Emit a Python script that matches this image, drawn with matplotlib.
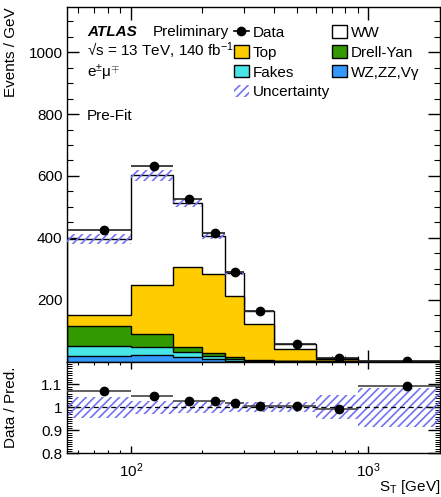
import numpy as np
import matplotlib
matplotlib.use("Agg")
import matplotlib.pyplot as plt
from matplotlib.lines import Line2D
from matplotlib.patches import Patch
from matplotlib.ticker import FixedLocator, NullFormatter, LogLocator, MultipleLocator

plt.rcParams['font.family'] = ['Liberation Sans', 'DejaVu Sans']
plt.rcParams['mathtext.fontset'] = 'custom'
plt.rcParams['mathtext.rm'] = 'Liberation Sans'
plt.rcParams['mathtext.it'] = 'Liberation Sans:italic'
plt.rcParams['mathtext.bf'] = 'Liberation Sans:bold'
plt.rcParams['hatch.linewidth'] = 1.2

# ---------------- data ----------------
bin_edges = [54, 100, 150, 200, 250, 300, 400, 600, 900, 2000]
data = [425, 631, 525, 414, 290, 164, 56, 11, 0.5]
vv = [17, 22, 15, 7.5, 3, 1.2, 0.5, 0.2, 0.02]
fakes = [32, 24, 17, 11.5, 6, 2, 0.6, 0.1, 0.01]
drellyan = [66, 43, 16, 10, 5, 2.8, 1, 0.3, 0.02]
top = [35, 158, 258, 253, 197, 116, 38, 6.5, 0.25]
ww = [246, 355, 206, 124, 76, 41, 16.5, 4, 0.16]
rel_unc = [0.044, 0.030, 0.025, 0.023, 0.022, 0.022, 0.022, 0.052, 0.085]
ratio = [1.073, 1.050, 1.030, 1.028, 1.018, 1.008, 1.008, 0.993, 1.094]

labels_stack = ['WZ,ZZ,V\u03b3', 'Fakes', 'Drell-Yan', 'Top', 'WW']
colors_stack = ['#3399ff', '#47e5e5', '#339900', '#ffcc00', '#ffffff']

hatch_col = '#7272f2'
HATCH = '////'

edges = np.array(bin_edges, dtype=float)
comps = [np.array(c, dtype=float) for c in (vv, fakes, drellyan, top, ww)]
cums = np.cumsum(np.array(comps), axis=0)
total = cums[-1]
unc = np.array(rel_unc)
centers = 0.5 * (edges[:-1] + edges[1:])
xlo = centers - edges[:-1]
xhi = edges[1:] - centers

fig = plt.figure(figsize=(4.41, 4.97), dpi=100)
ax = fig.add_axes([0.1526, 0.2726, 0.8451, 0.7127])
rx = fig.add_axes([0.1526, 0.0879, 0.8451, 0.1847], sharex=ax)

# stacked histogram (draw from top cumulative down)
for i in range(len(comps) - 1, -1, -1):
    ax.stairs(cums[i], edges, baseline=0, fill=True, facecolor=colors_stack[i],
              edgecolor='black', linewidth=1.0, zorder=2 + (len(comps) - i) * 0.01)

# uncertainty band
ax.stairs(total * (1 + unc), edges, baseline=total * (1 - unc), fill=True,
          facecolor='none', edgecolor=hatch_col, hatch=HATCH, linewidth=0, zorder=3)

# data
ax.errorbar(centers, data, xerr=[xlo, xhi], fmt='o', color='black', ms=6,
            elinewidth=1.2, ecolor='#222222', capsize=0, zorder=5)

ax.set_xscale('log')
ax.set_xlim(edges[0], edges[-1])
ax.set_ylim(0, 1145)
ax.yaxis.set_major_locator(FixedLocator([200, 400, 600, 800, 1000]))
ax.yaxis.set_minor_locator(MultipleLocator(50))
ax.set_ylabel('Events / GeV', loc='top', fontsize=11)
ax.yaxis.set_label_coords(-0.133, 1.0)
plt.setp(ax.get_xticklabels(), visible=False)

for a in (ax, rx):
    a.tick_params(which='both', direction='in', top=True, right=True, labelsize=11)
    a.tick_params(which='major', width=1.0)
    a.tick_params(which='minor', width=0.8)
    for s in a.spines.values():
        s.set_linewidth(1.0)
ax.tick_params(axis='y', which='major', length=8.5, pad=3.5)
ax.tick_params(axis='y', which='minor', length=4.2)
ax.tick_params(axis='x', which='major', length=9)
ax.tick_params(axis='x', which='minor', length=4.5)

# ratio panel
rx.stairs(1 + unc, edges, baseline=1 - unc, fill=True, facecolor='none',
          edgecolor=hatch_col, hatch=HATCH, linewidth=0, zorder=2)
rx.axhline(1.0, color='black', ls=(0, (4, 3)), lw=0.9, zorder=3)
rx.errorbar(centers, ratio, xerr=[xlo, xhi], fmt='o', color='black', ms=6,
            elinewidth=1.2, ecolor='#444444', capsize=0, zorder=5)
rx.set_ylim(0.8, 1.2)
rx.yaxis.set_major_locator(FixedLocator([0.8, 0.9, 1.0, 1.1]))
rx.yaxis.set_minor_locator(MultipleLocator(0.01))
rx.set_yticklabels(['0.8', '0.9', '1', '1.1'])
rx.set_xscale('log')
rx.set_xlim(edges[0], edges[-1])
rx.xaxis.set_major_locator(LogLocator(base=10))
rx.xaxis.set_minor_locator(LogLocator(base=10, subs=np.arange(2, 10)))
rx.xaxis.set_minor_formatter(NullFormatter())
rx.tick_params(axis='y', which='major', length=8.5, pad=3.5)
rx.tick_params(axis='y', which='minor', length=3.5, width=0.7)
rx.tick_params(axis='x', which='major', length=5, pad=6)
rx.tick_params(axis='x', which='minor', length=2.5)
rx.set_ylabel('Data / Pred.', fontsize=11)
rx.yaxis.set_label_coords(-0.133, 0.5)
rx.set_xlabel('S$_\\mathrm{T}$ [GeV]', loc='right', fontsize=11)
rx.xaxis.set_label_coords(1.0, -0.27)

# texts
ax.text(0.053, 0.919, 'ATLAS', transform=ax.transAxes, fontsize=11,
        fontweight='bold', fontstyle='italic', va='baseline')
ax.text(0.228, 0.919, 'Preliminary', transform=ax.transAxes, fontsize=11, va='baseline')
ax.text(0.053, 0.860, '\u221as = 13 TeV, 140 fb$^{-1}$', transform=ax.transAxes,
        fontsize=11, va='baseline')
ax.text(0.053, 0.802, 'e$^{\\pm}$\u03bc$^{\\mp}$', transform=ax.transAxes,
        fontsize=11, va='baseline')
ax.text(0.053, 0.682, 'Pre-Fit', transform=ax.transAxes, fontsize=11, va='baseline')

# legend
h_data = Line2D([], [], color='black', marker='o', ms=6, lw=1.2)
def box(c):
    return Patch(facecolor=c, edgecolor='black', linewidth=1.0)
h_unc = Patch(facecolor='none', edgecolor=hatch_col, hatch=HATCH, linewidth=0)
handles = [h_data, box(colors_stack[3]), box(colors_stack[1]), h_unc,
           box(colors_stack[4]), box(colors_stack[2]), box(colors_stack[0])]
labels = ['Data', 'Top', 'Fakes', 'Uncertainty', 'WW', 'Drell-Yan', labels_stack[0]]
ax.legend(handles, labels, ncol=2, loc='upper left', bbox_to_anchor=(0.43, 0.966),
          frameon=False, fontsize=11, handlelength=1.0, handleheight=0.85,
          handletextpad=0.25, columnspacing=0.1, labelspacing=0.36, borderaxespad=0)

fig.savefig('out.png', dpi=100)
